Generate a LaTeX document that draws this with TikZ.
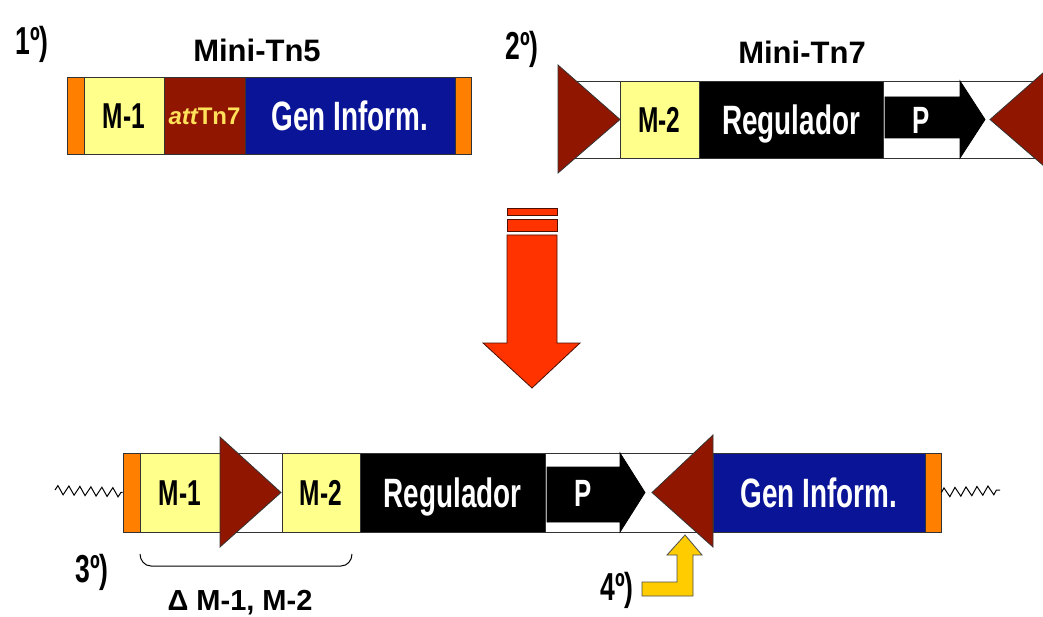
\documentclass[tikz,border=0pt]{standalone}
\usepackage{fontspec}
\setmainfont{Liberation Sans}
\newfontfamily\narrowfont{Liberation Sans}[FakeStretch=0.68]
\usetikzlibrary{decorations.pathmorphing}

\definecolor{tnorange}{RGB}{255,128,0}
\definecolor{tnyellow}{RGB}{255,255,140}
\definecolor{tnred}{RGB}{145,22,0}
\definecolor{tnblue}{RGB}{10,20,150}
\definecolor{tngold}{RGB}{255,225,90}
\definecolor{arrowred}{RGB}{255,51,0}
\definecolor{arrowgold}{RGB}{255,204,0}

\begin{document}
\begin{tikzpicture} [x=1pt, y=-1pt, line width=0.8pt,
  block/.style={draw=black!80, inner sep=0pt, font=\narrowfont\bfseries\fontsize{36}{40}\selectfont, text height=25.8pt, text depth=0pt},
  big/.style={font=\narrowfont\bfseries\fontsize{41}{44}\selectfont, text height=29.4pt},
  stepno/.style={font=\narrowfont\bfseries\fontsize{39}{42}\selectfont, text height=28pt, text depth=0pt, inner sep=0pt},
  title/.style={font=\bfseries\fontsize{31}{34}\selectfont, text height=22.2pt, text depth=0pt, inner sep=0pt},
  site/.style={draw=black!80, fill=tnred},
  wavy/.style={decorate, decoration={zigzag, segment length=11pt, amplitude=4.5pt}, line width=1pt}]

\useasboundingbox (0,0) rectangle (1043,617);

% 1) Mini-Tn5
\node at (32,41) [stepno] (step1) {1º)};
\node at (257,50) [title] (tn5) {Mini-Tn5};
\node at (75.5,115.5) [block, fill=tnorange, minimum width=17pt, minimum height=77pt] (oa) {};
\node at (124,115.5) [block, fill=tnyellow, minimum width=80pt, minimum height=77pt] (ma) {M-1};
\node at (204.5,115.5) [block, fill=tnred, text=tngold, minimum width=81pt, minimum height=77pt, font=\bfseries\fontsize{24}{28}\selectfont, text height=17.2pt] (att) {\itshape att\upshape Tn7};
\node at (350,115.5) [block, big, fill=tnblue, text=white, minimum width=210pt, minimum height=77pt] (gena) {Gen Inform.};
\node at (463,115.5) [block, fill=tnorange, minimum width=16pt, minimum height=77pt] (oa2) {};

% 2) Mini-Tn7
\node at (522,46) [stepno] (step2) {2º)};
\node at (802,52) [title] (tn7) {Mini-Tn7};
\draw [fill=white, draw=black!80] (558,81) rectangle (1060,158);
\node at (659.5,119.5) [block, fill=tnyellow, minimum width=79pt, minimum height=77pt] (mb) {M-2};
\node at (791,119.5) [block, big, fill=black, text=white, minimum width=184pt, minimum height=77pt] (rega) {Regulador};
\draw [fill=black] (885,97) -- (960,97) -- (960,81) -- (985,119.5) -- (960,158) -- (960,138) -- (885,138) -- cycle;
\node at (921,119.5) [text=white, font=\narrowfont\bfseries\fontsize{38}{40}\selectfont, text height=27.2pt, text depth=0pt] (pa) {P};
\draw [site] (558,65) -- (620,119.5) -- (558,173) -- cycle;
\draw [site] (990,119.5) -- (1052,65) -- (1052,173) -- cycle;

% transposition
\draw [fill=arrowred, draw=black!70!arrowred] (507,208) rectangle (557,215);
\draw [fill=arrowred, draw=black!70!arrowred] (507,219) rectangle (557,231);
\draw [fill=arrowred, draw=black!70!arrowred] (507,235) -- (557,235) -- (557,343) -- (580,343) -- (532,388) -- (483,343) -- (507,343) -- cycle;

% 3) result
\coordinate (wl) at (55,490);
\coordinate (wr) at (1000,490);
\draw [fill=white, draw=black!80] (140,453) rectangle (713,532);
\node at (131.5,492.5) [block, fill=tnorange, minimum width=17pt, minimum height=79pt] (ob) {};
\node at (180,492.5) [block, fill=tnyellow, minimum width=80pt, minimum height=79pt] (mc) {M-1};
\node at (321,492.5) [block, fill=tnyellow, minimum width=78pt, minimum height=79pt] (md) {M-2};
\node at (452.5,492.5) [block, big, fill=black, text=white, minimum width=185pt, minimum height=79pt] (regb) {Regulador};
\draw [fill=black] (547,467) -- (620,467) -- (620,453) -- (645,492.5) -- (620,532) -- (620,522) -- (547,522) -- cycle;
\node at (583,492.5) [text=white, font=\narrowfont\bfseries\fontsize{38}{40}\selectfont, text height=27.2pt, text depth=0pt] (pb) {P};
\draw [site] (220,437) -- (281,492.5) -- (220,547) -- cycle;
\draw [site] (652,492.5) -- (713,435) -- (713,547) -- cycle;
\node at (819,492.5) [block, big, fill=tnblue, text=white, minimum width=212pt, minimum height=79pt] (genb) {Gen Inform.};
\node at (933,492.5) [block, fill=tnorange, minimum width=16pt, minimum height=79pt] (ob2) {};
\draw [wavy] (wl) -- (ob.west);
\draw [wavy] (ob2.east) -- (wr);

\node at (92,568) [stepno] (step3) {3º)};
\draw [line width=1pt] (140,554) to[out=-90, in=180] (151,566) -- (341,566) to[out=0, in=-90] (352,554);
\node at (240,600) [font=\bfseries\fontsize{29}{32}\selectfont, text height=20.8pt, text depth=0pt, inner sep=0pt] (delta) {Δ M-1, M-2};

% 4) excision
\node at (617,586) [stepno] (step4) {4º)};
\draw [fill=arrowgold, draw=black!70] (642,582) -- (677,582) -- (677,555) -- (667,555) -- (685,535) -- (702,555) -- (693,555) -- (693,596) -- (642,596) -- cycle;

\end{tikzpicture}
\end{document}
